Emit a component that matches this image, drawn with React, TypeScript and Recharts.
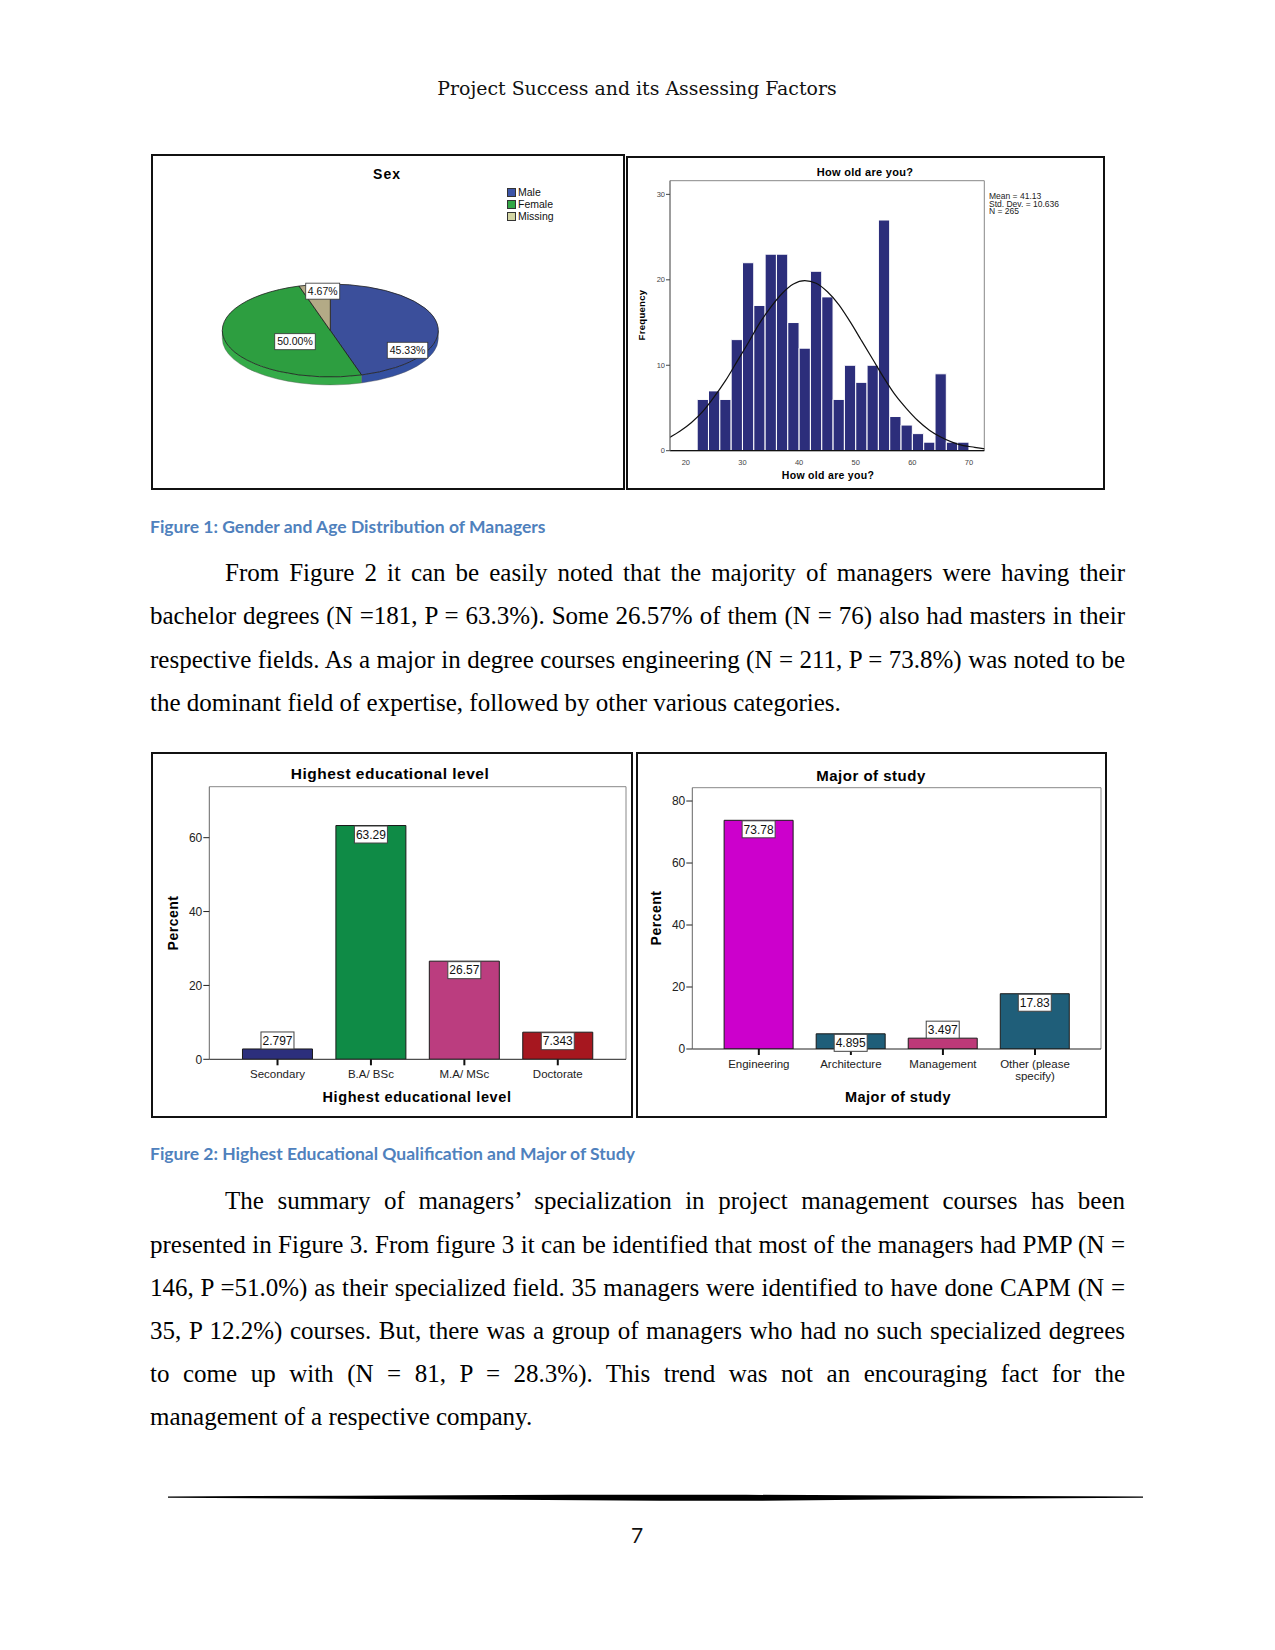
import React from "react";
import {
  Bar,
  BarChart,
  CartesianGrid,
  Cell,
  ComposedChart,
  LabelList,
  Line,
  Pie,
  PieChart,
  ReferenceArea,
  Text,
  XAxis,
  YAxis,
} from "recharts";

// ---- Figure 1: Sex pie ----
const sexLabels = ["Male", "Female", "Missing"];
const sexPercents = [45.33, 50.0, 4.67];
const sexTopColors = ["#3b4f9b", "#2d9e40", "#b3aa86"];
const sexSideColors = ["#3450a0", "#35ab49", "#a39a77"];
const sexLegendColors = ["#3c55a8", "#33a646", "#d3d5a3"];

// ---- Figure 1: age histogram (2-year bins) ----
const ageBinCenters = [23, 25, 27, 29, 31, 33, 35, 37, 39, 41, 43, 45, 47, 49, 51, 53, 55, 57, 59, 61, 63, 65, 67, 69];
const ageFrequencies = [6, 7, 6, 13, 22, 17, 23, 23, 15, 12, 21, 18, 6, 10, 8, 10, 27, 4, 3, 2, 1, 9, 1, 1];
const curveAges = [17, 19, 21, 23, 25, 27, 29, 31, 33, 35, 37, 39, 41, 43, 45, 47, 49, 51, 53, 55, 57, 59, 61, 63, 65, 67, 69, 71, 73];
const curveFrequencies = [1.5, 2.3, 3.3, 4.6, 6.3, 8.2, 10.4, 12.6, 14.9, 16.8, 18.4, 19.5, 19.9, 19.6, 18.6, 17.1, 15.1, 12.9, 10.7, 8.5, 6.5, 4.9, 3.5, 2.4, 1.6, 1.0, 0.6, 0.4, 0.2];
const ageTicks = [20, 30, 40, 50, 60, 70];
const freqTicks = [0, 10, 20, 30];
const ageStats = ["Mean = 41.13", "Std. Dev. = 10.636", "N = 265"];

// ---- Figure 2: education ----
const eduLevels = ["Secondary", "B.A/ BSc", "M.A/ MSc", "Doctorate"];
const eduPercents = [2.797, 63.29, 26.57, 7.343];
const eduColors = ["#2c2f7c", "#0f8b46", "#bb3d7f", "#a6171f"];
const eduTicks = [0, 20, 40, 60];

const majors = ["Engineering", "Architecture", "Management", "Other (please specify)"];
const majorPercents = [73.78, 4.895, 3.497, 17.83];
const majorColors = ["#cc00cc", "#1f5e79", "#bd3978", "#1f5e79"];
const majorTicks = [0, 20, 40, 60, 80];

// ---- page text ----
const para1 = [
  "From Figure 2 it can be easily noted that the majority of managers were having their",
  "bachelor degrees (N =181, P = 63.3%). Some 26.57% of them (N = 76) also had masters in their",
  "respective fields. As a major in degree courses engineering (N = 211, P = 73.8%) was noted to be",
  "the dominant field of expertise, followed by other various categories.",
];
const para2 = [
  "The summary of managers\u2019 specialization in project management courses has been",
  "presented in Figure 3. From figure 3 it can be identified that most of the managers had PMP (N =",
  "146, P =51.0%) as their specialized field. 35 managers were identified to have done CAPM (N =",
  "35, P 12.2%) courses. But, there was a group of managers who had no such specialized degrees",
  "to come up with (N = 81, P = 28.3%). This trend was not an encouraging fact for the",
  "management of a respective company.",
];

const SANS = "'Liberation Sans', Arial, sans-serif";
const SERIF = "'Liberation Serif', 'Times New Roman', serif";
const CAPTION_FONT = "Lato, 'Open Sans', sans-serif";

const PIE_SQUASH = 0.43;
const PIE_DEPTH = 8;
// where SPSS put the percent boxes, as fractions of the ellipse radii
const sexLabelSpots = [
  [0.715, 0.426],
  [-0.327, 0.241],
  [-0.07, -0.847],
];

function ellPt(cx: number, cy: number, rx: number, ry: number, deg: number) {
  const a = (deg * Math.PI) / 180;
  return [cx + rx * Math.cos(a), cy - ry * Math.sin(a)];
}

function renderSexFace(props: any) {
  const { cx, cy, outerRadius, startAngle, endAngle, index } = props;
  const rx = outerRadius;
  const ry = outerRadius * PIE_SQUASH;
  const hi = Math.max(startAngle, endAngle);
  const lo = Math.min(startAngle, endAngle);
  const [x0, y0] = ellPt(cx, cy, rx, ry, hi);
  const [x1, y1] = ellPt(cx, cy, rx, ry, lo);
  const large = hi - lo > 180 ? 1 : 0;
  const top = `M${cx},${cy} L${x0},${y0} A${rx},${ry} 0 ${large} 1 ${x1},${y1} Z`;

  const bands: string[] = [];
  for (const k of [0, -360, 360]) {
    const a = Math.min(hi, k);
    const b = Math.max(lo, -180 + k);
    if (a > b) {
      const [ax, ay] = ellPt(cx, cy, rx, ry, a);
      const [bx, by] = ellPt(cx, cy, rx, ry, b);
      bands.push(
        `M${ax},${ay} A${rx},${ry} 0 0 1 ${bx},${by} L${bx},${by + PIE_DEPTH} A${rx},${ry} 0 0 0 ${ax},${ay + PIE_DEPTH} Z`
      );
    }
  }
  return (
    <g key={`face-${index}`}>
      {bands.map((d, i) => (
        <path key={i} d={d} fill={sexSideColors[index]} stroke="#555" strokeWidth={0.4} />
      ))}
      <path d={top} fill={sexTopColors[index]} stroke="#1e1e1e" strokeWidth={0.8} />
    </g>
  );
}

function renderSexLabel(props: any) {
  const { cx, cy, outerRadius, index, value } = props;
  const spot = sexLabelSpots[index];
  const x = cx + spot[0] * outerRadius;
  const y = cy + spot[1] * outerRadius * PIE_SQUASH;
  const text = `${Number(value).toFixed(2)}%`;
  const bw = text.length * 6.5 + 1.5;
  const bh = 16;
  return (
    <g key={`lab-${index}`}>
      <rect x={x - bw / 2} y={y - bh / 2} width={bw} height={bh} fill="#fff" stroke="#333" strokeWidth={0.8} />
      <text x={x} y={y} dy="0.36em" textAnchor="middle" fontSize={10.5} fontFamily={SANS} fill="#111">
        {text}
      </text>
    </g>
  );
}

function renderValueBox(props: any) {
  const vb = props.viewBox && props.viewBox.width !== undefined ? props.viewBox : props;
  const { x, y, width, height } = vb;
  const text = String(props.value);
  const bw = text.length * 6.4 + 1;
  const bh = 17;
  const mid = x + width / 2;
  const top = height >= 13 ? y + 0.5 : y - bh;
  return (
    <g>
      <rect x={mid - bw / 2} y={top} width={bw} height={bh} fill="#fff" stroke="#444" strokeWidth={1} />
      <text x={mid} y={top + bh / 2} dy="0.36em" textAnchor="middle" fontSize={12} fontFamily={SANS} fill="#111">
        {text}
      </text>
    </g>
  );
}

function renderCatTick(props: any) {
  const { x, y, payload } = props;
  return (
    <Text
      x={x}
      y={y}
      width={92}
      textAnchor="middle"
      verticalAnchor="start"
      fontSize={11.5}
      fontFamily={SANS}
      fill="#222"
    >
      {payload.value}
    </Text>
  );
}

// gray frame on the top and right of a plot area
const frameTop = ({ offset }: any) => [offset.top];
const frameRight = ({ offset }: any) => [offset.left + offset.width];

function Centered({ x, y, rotate, style, children }: any) {
  return (
    <div
      style={{
        position: "absolute",
        left: x,
        top: y,
        transform: `translate(-50%, -50%)${rotate ? " rotate(-90deg)" : ""}`,
        whiteSpace: "nowrap",
        lineHeight: 1,
        ...style,
      }}
    >
      {children}
    </div>
  );
}

function Paragraph({ lines, firstY }: { lines: string[]; firstY: number }) {
  const step = 43.1;
  return (
    <>
      {lines.map((line, i) => {
        const last = i === lines.length - 1;
        const left = i === 0 ? 225 : 150;
        return (
          <div
            key={i}
            style={{
              position: "absolute",
              left,
              top: firstY + i * step - 15,
              width: 1125 - left,
              height: 30,
              lineHeight: "30px",
              fontFamily: SERIF,
              fontSize: 25,
              color: "#000",
              textAlign: last ? "left" : "justify",
              textAlignLast: last ? "left" : "justify",
              whiteSpace: last ? "nowrap" : "normal",
            }}
          >
            {line}
          </div>
        );
      })}
    </>
  );
}

function Panel({ left, top, width, height }: any) {
  return (
    <div
      style={{
        position: "absolute",
        left,
        top,
        width,
        height,
        boxSizing: "border-box",
        border: "2px solid #111",
      }}
    />
  );
}

function Place({ left, top, children }: any) {
  return <div style={{ position: "absolute", left, top }}>{children}</div>;
}

export default function App() {
  const sexData = sexLabels.map((name, i) => ({ name, value: sexPercents[i] }));
  const ageData = ageBinCenters.map((age, i) => ({ age, freq: ageFrequencies[i] }));
  const curveData = curveAges.map((age, i) => ({ age, curve: curveFrequencies[i] }));
  const eduData = eduLevels.map((name, i) => ({ name, pct: eduPercents[i] }));
  const majorData = majors.map((name, i) => ({ name, pct: majorPercents[i] }));

  const histW = 479;
  const histH = 334;
  const histMargin = { top: 24.7, right: 120.7, bottom: 0, left: 0 };
  const histYW = 44;
  const ageDomain: [number, number] = [17.2, 72.7];
  const histBar = ((histW - histMargin.right - histYW) * 2) / (ageDomain[1] - ageDomain[0]) - 0.05;

  const tickSmall = { fontSize: 7.5, fontFamily: SANS, fill: "#444" };
  const tickBig = { fontSize: 12, fontFamily: SANS, fill: "#222" };

  return (
    <div
      style={{
        position: "absolute",
        left: 0,
        top: 0,
        width: 1275,
        height: 1650,
        background: "#fff",
        overflow: "hidden",
      }}
    >
      <Centered x={637} y={88} style={{ fontFamily: "'DejaVu Serif', serif", fontSize: 18.9, color: "#111" }}>
        Project Success and its Assessing Factors
      </Centered>

      {/* ---------- Figure 1 left: Sex ---------- */}
      <Panel left={151} top={154} width={474} height={336} />
      <Centered x={387} y={174} style={{ fontFamily: SANS, fontWeight: 700, fontSize: 14, letterSpacing: 1 }}>
        Sex
      </Centered>
      {sexLabels.map((name, i) => (
        <div
          key={name}
          style={{ position: "absolute", left: 507, top: 186 + i * 12.3, height: 12, display: "flex", alignItems: "center" }}
        >
          <div
            style={{
              width: 9,
              height: 9,
              boxSizing: "border-box",
              background: sexLegendColors[i],
              border: "1px solid #333",
              marginRight: 2,
            }}
          />
          <span style={{ fontFamily: SANS, fontSize: 10.5, color: "#111", lineHeight: 1 }}>{name}</span>
        </div>
      ))}
      <Place left={151} top={154}>
        <PieChart width={474} height={336} margin={{ top: 0, right: 0, bottom: 0, left: 0 }}>
          <Pie
            data={sexData}
            dataKey="value"
            nameKey="name"
            cx={179.3}
            cy={176.5}
            outerRadius={108}
            startAngle={90}
            endAngle={-270}
            fill="transparent"
            stroke="none"
            labelLine={false}
            label={renderSexFace}
            isAnimationActive={false}
          />
          <Pie
            data={sexData}
            dataKey="value"
            nameKey="name"
            cx={179.3}
            cy={176.5}
            outerRadius={108}
            startAngle={90}
            endAngle={-270}
            fill="transparent"
            stroke="none"
            labelLine={false}
            label={renderSexLabel}
            isAnimationActive={false}
          />
        </PieChart>
      </Place>

      {/* ---------- Figure 1 right: age histogram ---------- */}
      <Panel left={626} top={156} width={479} height={334} />
      <Centered x={865} y={172} style={{ fontFamily: SANS, fontWeight: 700, fontSize: 11, letterSpacing: 0.3 }}>
        How old are you?
      </Centered>
      <Centered x={828} y={475} style={{ fontFamily: SANS, fontWeight: 700, fontSize: 10.5, letterSpacing: 0.3 }}>
        How old are you?
      </Centered>
      <Centered x={642} y={315} rotate style={{ fontFamily: SANS, fontWeight: 700, fontSize: 9.5, letterSpacing: 0.3 }}>
        Frequency
      </Centered>
      <div style={{ position: "absolute", left: 989, top: 193, fontFamily: SANS, fontSize: 8.5, lineHeight: "7.6px", color: "#222" }}>
        {ageStats.map((s) => (
          <div key={s}>{s}</div>
        ))}
      </div>
      <Place left={626} top={156}>
        <ComposedChart width={histW} height={histH} data={ageData} margin={histMargin} barCategoryGap={0} barGap={0}>
          <XAxis
            dataKey="age"
            type="number"
            domain={ageDomain}
            allowDataOverflow
            ticks={ageTicks}
            height={39.3}
            tick={tickSmall}
            tickLine={false}
            tickMargin={3}
            axisLine={{ stroke: "#111", strokeWidth: 1.2 }}
          />
          <YAxis
            type="number"
            domain={[0, 31.6]}
            allowDataOverflow
            ticks={freqTicks}
            width={histYW}
            tick={tickSmall}
            tickSize={4}
            tickLine={{ stroke: "#444" }}
            tickMargin={1}
            axisLine={{ stroke: "#777" }}
          />
          <ReferenceArea x1={ageDomain[0]} x2={ageDomain[1]} y1={0} y2={31.6} fill="none" stroke="#888" strokeWidth={1} />
          <Bar dataKey="freq" fill="#2c2e7b" stroke="#ffffff" strokeWidth={1} barSize={histBar} isAnimationActive={false} />
          <Line
            data={curveData}
            dataKey="curve"
            type="monotone"
            stroke="#111"
            strokeWidth={1.2}
            dot={false}
            activeDot={false}
            isAnimationActive={false}
          />
        </ComposedChart>
      </Place>

      <Centered x={150} y={527} style={{ transform: "translate(0, -50%)", fontFamily: CAPTION_FONT, fontWeight: 700, fontSize: 17.5, color: "#4f81bd" }}>
        Figure 1: Gender and Age Distribution of Managers
      </Centered>

      <Paragraph lines={para1} firstY={573.3} />

      {/* ---------- Figure 2 left: education ---------- */}
      <Panel left={151} top={752} width={482} height={366} />
      <Centered x={390} y={774} style={{ fontFamily: SANS, fontWeight: 700, fontSize: 15.5, letterSpacing: 0.5 }}>
        Highest educational level
      </Centered>
      <Centered x={417} y={1097} style={{ fontFamily: SANS, fontWeight: 700, fontSize: 14.5, letterSpacing: 0.6 }}>
        Highest educational level
      </Centered>
      <Centered x={173} y={923} rotate style={{ fontFamily: SANS, fontWeight: 700, fontSize: 14, letterSpacing: 0.5 }}>
        Percent
      </Centered>
      <Place left={151} top={752}>
        <BarChart width={482} height={366} data={eduData} margin={{ top: 34.7, right: 7, left: 0, bottom: 0 }} barCategoryGap="12.5%">
          <CartesianGrid
            stroke="#888"
            horizontalCoordinatesGenerator={frameTop}
            verticalCoordinatesGenerator={frameRight}
          />
          <XAxis
            dataKey="name"
            height={58.7}
            padding={{ left: 21.5, right: 21.5 }}
            tick={renderCatTick}
            tickSize={6}
            tickMargin={5}
            tickLine={{ stroke: "#111", strokeWidth: 2 }}
            axisLine={{ stroke: "#222" }}
            interval={0}
          />
          <YAxis
            type="number"
            domain={[0, 73.8]}
            allowDataOverflow
            ticks={eduTicks}
            width={58.3}
            tick={tickBig}
            tickSize={6}
            tickMargin={1}
            tickLine={{ stroke: "#222" }}
            axisLine={{ stroke: "#666" }}
          />
          <Bar dataKey="pct" stroke="#1a1a1a" strokeWidth={1} isAnimationActive={false}>
            {eduData.map((d, i) => (
              <Cell key={d.name} fill={eduColors[i]} />
            ))}
            <LabelList dataKey="pct" content={renderValueBox} />
          </Bar>
        </BarChart>
      </Place>

      {/* ---------- Figure 2 right: major ---------- */}
      <Panel left={636} top={752} width={471} height={366} />
      <Centered x={871} y={775} style={{ fontFamily: SANS, fontWeight: 700, fontSize: 15, letterSpacing: 0.5 }}>
        Major of study
      </Centered>
      <Centered x={898} y={1097} style={{ fontFamily: SANS, fontWeight: 700, fontSize: 14.5, letterSpacing: 0.5 }}>
        Major of study
      </Centered>
      <Centered x={656} y={918} rotate style={{ fontFamily: SANS, fontWeight: 700, fontSize: 14, letterSpacing: 0.5 }}>
        Percent
      </Centered>
      <Place left={636} top={752}>
        <BarChart width={472} height={366} data={majorData} margin={{ top: 35.7, right: 7, left: 0, bottom: 0 }} barCategoryGap="12.3%">
          <CartesianGrid
            stroke="#888"
            horizontalCoordinatesGenerator={frameTop}
            verticalCoordinatesGenerator={frameRight}
          />
          <XAxis
            dataKey="name"
            height={69}
            padding={{ left: 20.5, right: 20 }}
            tick={renderCatTick}
            tickSize={6}
            tickMargin={5}
            tickLine={{ stroke: "#111", strokeWidth: 2 }}
            axisLine={{ stroke: "#222" }}
            interval={0}
          />
          <YAxis
            type="number"
            domain={[0, 84.3]}
            allowDataOverflow
            ticks={majorTicks}
            width={56.3}
            tick={tickBig}
            tickSize={6}
            tickMargin={1}
            tickLine={{ stroke: "#222" }}
            axisLine={{ stroke: "#666" }}
          />
          <Bar dataKey="pct" stroke="#1a1a1a" strokeWidth={1} isAnimationActive={false}>
            {majorData.map((d, i) => (
              <Cell key={d.name} fill={majorColors[i]} />
            ))}
            <LabelList dataKey="pct" content={renderValueBox} />
          </Bar>
        </BarChart>
      </Place>

      <Centered x={150} y={1154} style={{ transform: "translate(0, -50%)", fontFamily: CAPTION_FONT, fontWeight: 700, fontSize: 17.5, color: "#4f81bd" }}>
        Figure 2: Highest Educational Qualification and Major of Study
      </Centered>

      <Paragraph lines={para2} firstY={1201.4} />

      {/* footer rule */}
      <svg style={{ position: "absolute", left: 0, top: 1482 }} width={1275} height={30}>
        <polygon
          points="168,14.4 350,13.8 570,12.8 746,12.8 960,13.8 1143,14.4 1143,15.8 960,16.8 760,18.8 660,18.8 460,17.4 300,16.4 168,15.8"
          fill="#000"
        />
      </svg>
      <Centered x={637} y={1534} style={{ fontFamily: CAPTION_FONT, fontSize: 21, color: "#111" }}>
        7
      </Centered>
    </div>
  );
}
